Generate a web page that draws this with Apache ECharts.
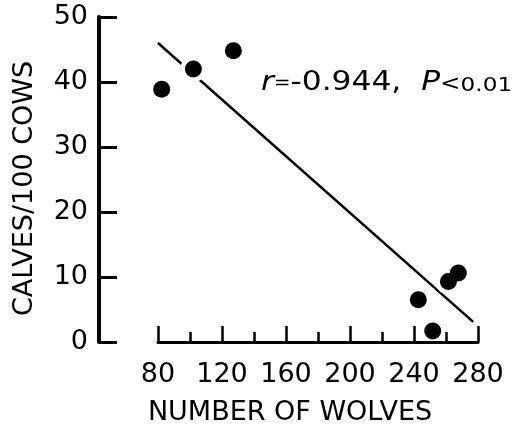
<!DOCTYPE html>
<html>
<head>
<meta charset="utf-8">
<script src="https://cdn.jsdelivr.net/npm/echarts@6/dist/echarts.min.js"></script>
<style>
html,body{margin:0;padding:0;background:#fff;}
#chart{width:517px;height:427px;}
</style>
</head>
<body>
<div id="chart"></div>
<script>
// Data
const wolves = [82.3, 102.1, 127.1, 242.7, 251.7, 261.5, 267.7];
const calves = [38.9, 42.0, 44.8, 6.5, 1.7, 9.3, 10.6];
// Regression line end points (as drawn)
const fitX = [80, 277];
const fitY = [46.0, 3.1];
const xTicks = [80, 120, 160, 200, 240, 280];
const yTicks = [0, 10, 20, 30, 40, 50];
const xTitle = 'NUMBER OF WOLVES';
const yTitle = 'CALVES/100 COWS';

const FONT = 'DejaVu Sans';
const FS = 27;
const pts = wolves.map((w, i) => [w, calves[i]]);
const fit = fitX.map((x, i) => [x, fitY[i]]);
const yMin = yTicks[0], yMax = yTicks[yTicks.length - 1];
const xMin = xTicks[0], xMax = xTicks[xTicks.length - 1];

const chart = echarts.init(document.getElementById('chart'), null, {renderer: 'canvas'});
chart.setOption({
  backgroundColor: '#fff',
  animation: false,
  grid: [
    {left: 99, right: 39, top: 17, bottom: 85, containLabel: false, outerBoundsMode: 'none'},
    {left: 158, right: 39, top: 17, bottom: 85, containLabel: false, outerBoundsMode: 'none'}
  ],
  xAxis: [
    {
      gridIndex: 0, type: 'value', min: xMin, max: xMax, show: false
    },
    {
      gridIndex: 1,
      type: 'value',
      min: xMin, max: xMax, interval: 40,
      z: 10,
      offset: 1,
      name: xTitle,
      nameLocation: 'middle',
      nameGap: 56,
      nameTextStyle: {fontFamily: FONT, fontSize: FS, color: '#000', padding: [0, 56, 0, 0]},
      axisLine: {show: true, lineStyle: {color: '#000', width: 3}},
      axisTick: {show: true, inside: true, length: 16, lineStyle: {color: '#000', width: 2.5}},
      minorTick: {show: true, splitNumber: 2, length: 10, lineStyle: {color: '#000', width: 2.5}},
      axisLabel: {fontFamily: FONT, fontSize: FS, color: '#000', margin: 18},
      splitLine: {show: false}
    }
  ],
  yAxis: [
    {
      gridIndex: 0,
      type: 'value',
      min: yMin, max: yMax, interval: 10,
      name: yTitle,
      nameLocation: 'middle',
      nameGap: 61,
      nameRotate: 90,
      nameTextStyle: {fontFamily: FONT, fontSize: FS, color: '#000', padding: [0, 18, 0, 0]},
      axisLine: {show: true, lineStyle: {color: '#000', width: 4}},
      axisTick: {show: true, inside: true, length: 18, lineStyle: {color: '#000', width: 3}},
      axisLabel: {fontFamily: FONT, fontSize: FS, color: '#000', margin: 11},
      splitLine: {show: false}
    },
    {
      gridIndex: 1, type: 'value', min: yMin, max: yMax, show: false
    }
  ],
  graphic: [{
    type: 'text',
    x: 261, y: 69,
    scaleX: 1.16,
    z: 100,
    style: {
      x: 0, y: 0,
      align: 'left', verticalAlign: 'top',
      text: '{i|r}{eq|=}{n|-0.944,  }{i|P}{lt|<}{s|0.01}',
      rich: {
        i: {fontFamily: FONT, fontSize: FS, fontStyle: 'italic', fill: '#000', verticalAlign: 'bottom'},
        eq: {fontFamily: FONT, fontSize: 17, fill: '#000', verticalAlign: 'bottom', padding: [0, 0, 4, 0]},
        n: {fontFamily: FONT, fontSize: FS, fill: '#000', verticalAlign: 'bottom'},
        lt: {fontFamily: FONT, fontSize: 21, fill: '#000', verticalAlign: 'bottom', padding: [0, 0, 1, 0]},
        s: {fontFamily: FONT, fontSize: 20, fill: '#000', verticalAlign: 'bottom'}
      }
    }
  }],
  series: [
    {
      type: 'line',
      xAxisIndex: 1, yAxisIndex: 1,
      data: fit,
      symbol: 'none',
      z: 2,
      lineStyle: {color: '#000', width: 2.5},
      silent: true
    },
    {
      type: 'scatter',
      xAxisIndex: 1, yAxisIndex: 1,
      data: pts,
      symbol: 'circle',
      symbolSize: 26,
      z: 3,
      itemStyle: {color: '#fff', opacity: 1},
      silent: true
    },
    {
      type: 'scatter',
      xAxisIndex: 1, yAxisIndex: 1,
      data: pts,
      symbol: 'circle',
      symbolSize: 17,
      z: 4,
      itemStyle: {color: '#000', opacity: 1},
      silent: true
    }
  ]
});
</script>
</body>
</html>
